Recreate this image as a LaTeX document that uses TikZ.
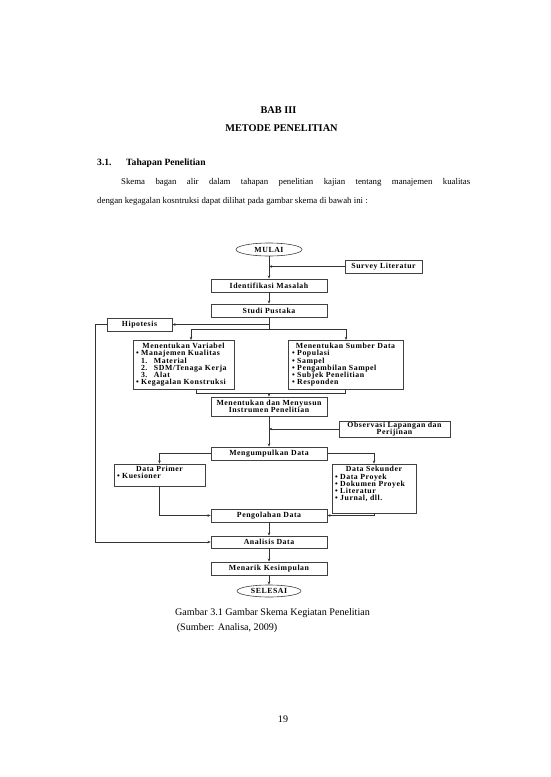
\documentclass[tikz,border=0pt]{standalone}
\usepackage{fontspec}
\setmainfont{Liberation Serif}
\newfontfamily\dfont[LetterSpace=7]{Liberation Serif}
\usetikzlibrary{shapes.geometric,arrows.meta}
\tikzset{
  box/.style={draw=black!75, line width=0.6pt, fill=white, inner sep=0pt,
    font=\dfont\bfseries\fontsize{7.8}{7.2}\selectfont, align=center},
  oval/.style={box, ellipse},
  arr/.style={-{Stealth[length=3.2pt,width=2.6pt]}, line width=0.6pt, draw=black!80},
  ln/.style={line width=0.6pt, draw=black!80},
  body/.style={font=\fontsize{8.8}{10}\selectfont, inner sep=0pt},
  capt/.style={font=\fontsize{10.1}{12}\selectfont, inner sep=0pt},
  head/.style={font=\bfseries\fontsize{10.3}{12}\selectfont, inner sep=0pt},
  sechead/.style={font=\bfseries\fontsize{9.6}{11}\selectfont, inner sep=0pt}
}
\begin{document}
\begin{tikzpicture}[x=1pt,y=-1pt]
\useasboundingbox (0,0) rectangle (550,777);
% page text
\node[head] (bab) at (278.5,110) {BAB III};
\node[head] (metode) at (281.5,128) {METODE PENELITIAN};
\node[sechead, anchor=mid west] (sec) at (97,163) {3.1.};
\node[sechead, anchor=mid west] (sectitle) at (126,163) {Tahapan Penelitian};
\node[body, anchor=mid west] (p1) at (121,182) {\makebox[349pt][s]{Skema bagan alir dalam tahapan penelitian kajian tentang manajemen kualitas}};
\node[body, anchor=mid west] (p2) at (97,201) {dengan kegagalan kosntruksi dapat dilihat pada gambar skema di bawah ini :};
% diagram nodes
\node[oval, minimum width=66pt, minimum height=13pt] (mulai) at (269,249.5) {MULAI};
\node[box, minimum width=77pt, minimum height=13pt] (survey) at (383.5,266.5) {Survey Literatur};
\node[box, minimum width=116pt, minimum height=13pt] (ident) at (269,285.5) {Identifikasi Masalah};
\node[box, minimum width=116pt, minimum height=13pt] (studi) at (269,310.5) {Studi Pustaka};
\node[box, minimum width=65pt, minimum height=13pt] (hipo) at (139.5,324.5) {Hipotesis};
\node[box, minimum width=101pt, minimum height=49pt] (var) at (183.5,364.8) {\parbox{95pt}{\centering Menentukan Variabel\par\raggedright
  •\hspace{2.5pt}Manajemen Kualitas\par
  \hspace*{5pt}\makebox[13pt][l]{1.}Material\par
  \hspace*{5pt}\makebox[13pt][l]{2.}SDM/Tenaga Kerja\par
  \hspace*{5pt}\makebox[13pt][l]{3.}Alat\par
  •\hspace{2.5pt}Kegagalan Konstruksi}};
\node[box, minimum width=115pt, minimum height=49pt] (sumber) at (345.5,364.8) {\parbox{107pt}{\centering Menentukan Sumber Data\par\raggedright
  •\hspace{2.5pt}Populasi\par
  •\hspace{2.5pt}Sampel\par
  •\hspace{2.5pt}Pengambilan Sampel\par
  •\hspace{2.5pt}Subjek Penelitian\par
  •\hspace{2.5pt}Responden}};
\node[box, minimum width=116pt, minimum height=19pt] (instr) at (269,406.5) {Menentukan dan Menyusun\\Instrumen Penelitian};
\node[box, minimum width=111pt, minimum height=16pt] (obs) at (394.5,429) {Observasi Lapangan dan\\Perijinan};
\node[box, minimum width=116pt, minimum height=13pt] (kumpul) at (269,453.5) {Mengumpulkan Data};
\node[box, minimum width=91pt, minimum height=22pt] (primer) at (159.5,475) {\parbox[c][20pt][t]{85pt}{\vspace*{1pt}\centering Data Primer\par\raggedright
  •\hspace{2.5pt}Kuesioner}};
\node[box, minimum width=84pt, minimum height=49pt] (sekunder) at (374,488.5) {\parbox[c][46pt][t]{78pt}{\vspace*{1pt}\centering Data Sekunder\par\raggedright
  •\hspace{2.5pt}Data Proyek\par
  •\hspace{2.5pt}Dokumen Proyek\par
  •\hspace{2.5pt}Literatur\par
  •\hspace{2.5pt}Jurnal, dll.}};
\node[box, minimum width=116pt, minimum height=13pt] (olah) at (269,515.5) {Pengolahan Data};
\node[box, minimum width=116pt, minimum height=12pt] (analisis) at (269,542) {Analisis Data};
\node[box, minimum width=116pt, minimum height=13pt] (tarik) at (269,568.5) {Menarik Kesimpulan};
\node[oval, minimum width=64pt, minimum height=12pt] (selesai) at (269,591) {SELESAI};
% junction coordinates
\coordinate (jl) at (191,329);
\coordinate (jr) at (346,329);
\coordinate (bl) at (196,393);
\coordinate (br) at (345.7,393);
\coordinate (hl) at (95,324.5);
% connectors
\draw[arr] (mulai) -- (ident);
\draw[arr] (survey.west) -- (mulai.south |- survey.west);
\draw[arr] (ident) -- (studi);
\draw[ln] (studi.south) -- (studi.south |- jl);
\draw[arr] (studi.south |- hipo.east) -- (hipo.east);
\draw[ln] (jl) -- (jr);
\draw[arr] (jl) -- (jl |- var.north);
\draw[arr] (jr) -- (jr |- sumber.north);
\draw[arr] (hipo.west) -- (hl) |- (analisis.west);
\draw[ln] (bl |- var.south) -- (bl) -- (br) -- (br |- sumber.south);
\draw[arr] (instr.north |- bl) -- (instr.north);
\draw[arr] (instr) -- (kumpul);
\draw[arr] (obs.west) -- (instr.south |- obs.west);
\draw[arr] (kumpul.west) -| (primer.north);
\draw[arr] (kumpul.east) -| (sekunder.north);
\draw[arr] (primer.south) |- (olah.west);
\draw[arr] (sekunder.south) |- (olah.east);
\draw[arr] (olah) -- (analisis);
\draw[arr] (analisis) -- (tarik);
\draw[arr] (tarik) -- (selesai);
% caption
\node[capt, anchor=mid west] (cap1) at (175,613) {Gambar 3.1 Gambar Skema Kegiatan Penelitian};
\node[capt, anchor=mid west] (cap2) at (175,628) {\,(Sumber: Analisa, 2009)};
\node[capt] (page) at (283,719) {19};
\end{tikzpicture}
\end{document}
